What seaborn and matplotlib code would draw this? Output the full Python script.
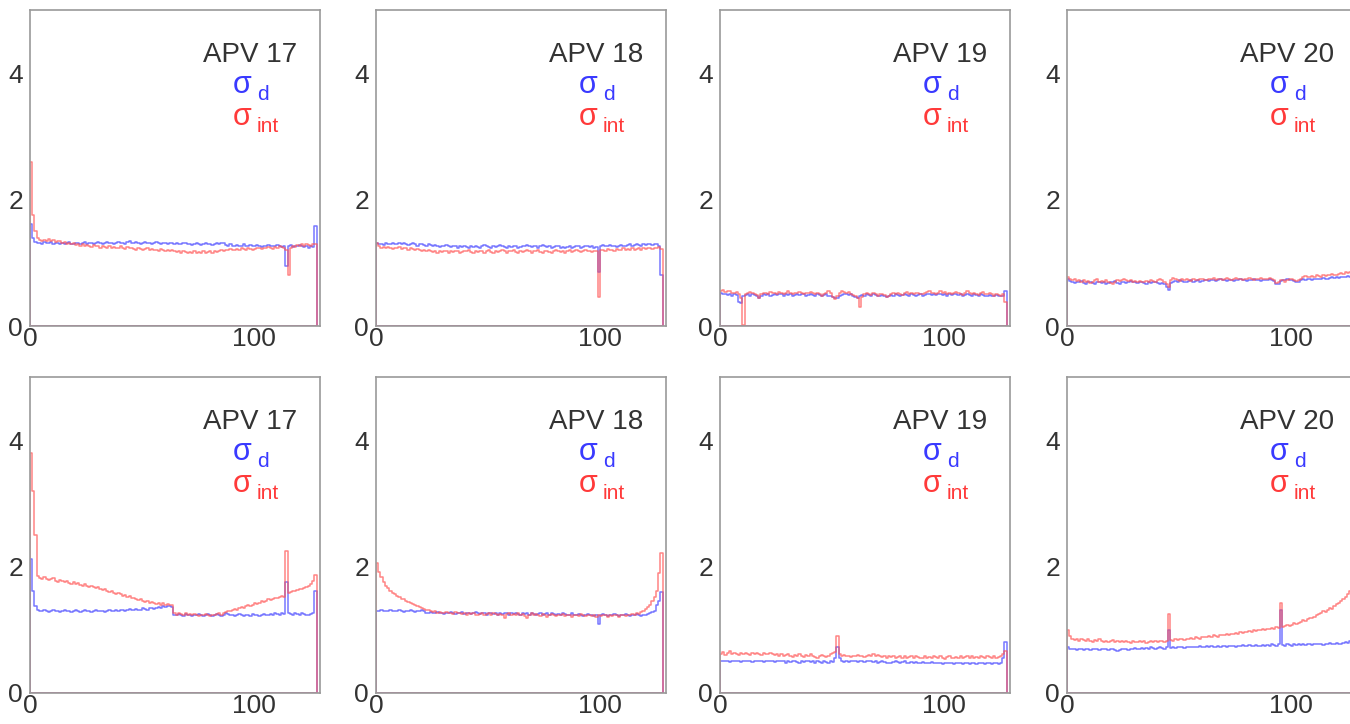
import numpy as np
import pandas as pd
import matplotlib
matplotlib.use("Agg")
import matplotlib.pyplot as plt
from matplotlib.colors import to_rgba
from matplotlib.ticker import FixedLocator, MultipleLocator
import seaborn as sns

# strip number of each APV chip (128 channels)
channels = list(range(128))
apv_names = ["APV 17", "APV 18", "APV 19", "APV 20"]

# ---- upper row ----
top17_d = [1.62, 1.40, 1.33, 1.31, 1.32, 1.30, 1.33, 1.32,
           1.31, 1.33, 1.30, 1.32, 1.31, 1.29, 1.32, 1.30,
           1.31, 1.33, 1.30, 1.29, 1.31, 1.32, 1.30, 1.31,
           1.33, 1.30, 1.31, 1.32, 1.30, 1.31, 1.33, 1.32,
           1.30, 1.31, 1.33, 1.32, 1.31, 1.30, 1.32, 1.33,
           1.31, 1.32, 1.30, 1.33, 1.35, 1.32, 1.31, 1.33,
           1.32, 1.30, 1.31, 1.33, 1.32, 1.31, 1.30, 1.32,
           1.33, 1.31, 1.30, 1.32, 1.31, 1.29, 1.31, 1.32,
           1.30, 1.31, 1.29, 1.30, 1.32, 1.31, 1.29, 1.30,
           1.28, 1.30, 1.31, 1.29, 1.28, 1.30, 1.31, 1.29,
           1.30, 1.28, 1.29, 1.31, 1.30, 1.32, 1.31, 1.28,
           1.27, 1.29, 1.26, 1.27, 1.28, 1.26, 1.27, 1.29,
           1.27, 1.26, 1.28, 1.27, 1.26, 1.28, 1.27, 1.25,
           1.27, 1.26, 1.28, 1.27, 1.26, 1.27, 1.28, 1.26,
           1.25, 1.27, 0.95, 1.26, 1.28, 1.25, 1.27, 1.26,
           1.28, 1.26, 1.25, 1.27, 1.24, 1.26, 1.25, 1.58]
top17_int = [2.60, 1.75, 1.50, 1.40, 1.36, 1.34, 1.36, 1.35,
             1.37, 1.34, 1.36, 1.33, 1.35, 1.34, 1.31, 1.33,
             1.30, 1.32, 1.29, 1.31, 1.28, 1.30, 1.27, 1.29,
             1.26, 1.28, 1.27, 1.25, 1.28, 1.26, 1.27, 1.24,
             1.26, 1.25, 1.23, 1.26, 1.24, 1.25, 1.23, 1.24,
             1.26, 1.24, 1.22, 1.25, 1.23, 1.24, 1.22, 1.21,
             1.23, 1.22, 1.20, 1.22, 1.24, 1.21, 1.22, 1.20,
             1.21, 1.19, 1.22, 1.20, 1.18, 1.21, 1.19, 1.20,
             1.18, 1.17, 1.19, 1.16, 1.18, 1.17, 1.15, 1.17,
             1.16, 1.18, 1.15, 1.17, 1.16, 1.18, 1.16, 1.17,
             1.18, 1.16, 1.19, 1.17, 1.18, 1.20, 1.19, 1.21,
             1.20, 1.22, 1.21, 1.20, 1.22, 1.21, 1.23, 1.22,
             1.21, 1.23, 1.22, 1.20, 1.22, 1.24, 1.23, 1.22,
             1.24, 1.23, 1.25, 1.24, 1.22, 1.25, 1.24, 1.26,
             1.25, 1.23, 1.20, 0.80, 1.24, 1.27, 1.25, 1.28,
             1.26, 1.29, 1.27, 1.30, 1.28, 1.27, 1.29, 1.30]

top18_d = [1.32, 1.29, 1.30, 1.28, 1.31, 1.29, 1.30, 1.31,
           1.29, 1.30, 1.32, 1.29, 1.31, 1.30, 1.28, 1.30,
           1.31, 1.29, 1.27, 1.29, 1.30, 1.28, 1.27, 1.29,
           1.28, 1.26, 1.28, 1.27, 1.25, 1.27, 1.26, 1.28,
           1.26, 1.25, 1.27, 1.26, 1.24, 1.26, 1.25, 1.27,
           1.25, 1.24, 1.26, 1.25, 1.27, 1.25, 1.24, 1.26,
           1.28, 1.26, 1.25, 1.24, 1.26, 1.25, 1.27, 1.28,
           1.26, 1.25, 1.24, 1.26, 1.25, 1.27, 1.26, 1.24,
           1.25, 1.27, 1.26, 1.28, 1.26, 1.25, 1.27, 1.26,
           1.24, 1.26, 1.28, 1.27, 1.25, 1.26, 1.24, 1.25,
           1.27, 1.26, 1.24, 1.25, 1.23, 1.25, 1.26, 1.24,
           1.25, 1.27, 1.26, 1.24, 1.25, 1.26, 1.27, 1.25,
           1.26, 1.24, 1.25, 0.86, 1.27, 1.28, 1.26, 1.27,
           1.28, 1.26, 1.27, 1.25, 1.26, 1.28, 1.27, 1.26,
           1.28, 1.29, 1.27, 1.28, 1.30, 1.28, 1.27, 1.29,
           1.28, 1.30, 1.29, 1.28, 1.30, 1.29, 1.27, 0.80]
top18_int = [1.32, 1.26, 1.24, 1.25, 1.23, 1.25, 1.24, 1.22,
             1.24, 1.23, 1.25, 1.22, 1.24, 1.23, 1.21, 1.23,
             1.22, 1.20, 1.22, 1.21, 1.19, 1.21, 1.18, 1.20,
             1.19, 1.17, 1.19, 1.16, 1.18, 1.17, 1.19, 1.18,
             1.16, 1.18, 1.17, 1.19, 1.18, 1.16, 1.17, 1.19,
             1.18, 1.20, 1.17, 1.16, 1.18, 1.17, 1.19, 1.18,
             1.16, 1.18, 1.20, 1.17, 1.15, 1.18, 1.17, 1.19,
             1.21, 1.18, 1.16, 1.19, 1.18, 1.20, 1.17, 1.15,
             1.18, 1.17, 1.19, 1.20, 1.18, 1.16, 1.19, 1.18,
             1.20, 1.17, 1.16, 1.18, 1.19, 1.17, 1.15, 1.18,
             1.20, 1.18, 1.17, 1.19, 1.16, 1.18, 1.20, 1.17,
             1.19, 1.21, 1.18, 1.17, 1.19, 1.20, 1.18, 1.19,
             1.17, 1.19, 1.18, 0.46, 1.20, 1.21, 1.19, 1.22,
             1.20, 1.21, 1.19, 1.22, 1.20, 1.21, 1.23, 1.20,
             1.22, 1.21, 1.23, 1.20, 1.22, 1.24, 1.21, 1.23,
             1.22, 1.24, 1.23, 1.22, 1.24, 1.23, 1.25, 1.22]

top19_d = [0.52, 0.50, 0.51, 0.49, 0.50, 0.48, 0.50, 0.49,
           0.38, 0.37, 0.47, 0.49, 0.50, 0.48, 0.50, 0.49,
           0.47, 0.45, 0.48, 0.50, 0.49, 0.50, 0.48, 0.49,
           0.50, 0.49, 0.51, 0.50, 0.48, 0.50, 0.49, 0.50,
           0.48, 0.49, 0.50, 0.49, 0.51, 0.50, 0.48, 0.49,
           0.50, 0.49, 0.48, 0.50, 0.49, 0.47, 0.49, 0.50,
           0.48, 0.47, 0.46, 0.44, 0.45, 0.48, 0.49, 0.50,
           0.51, 0.49, 0.50, 0.48, 0.46, 0.45, 0.47, 0.49,
           0.48, 0.50, 0.49, 0.48, 0.50, 0.49, 0.48, 0.47,
           0.49, 0.48, 0.46, 0.47, 0.49, 0.48, 0.50, 0.49,
           0.48, 0.49, 0.50, 0.49, 0.48, 0.50, 0.49, 0.48,
           0.49, 0.50, 0.48, 0.49, 0.50, 0.51, 0.49, 0.50,
           0.49, 0.50, 0.51, 0.49, 0.50, 0.48, 0.50, 0.49,
           0.51, 0.50, 0.49, 0.50, 0.48, 0.49, 0.50, 0.49,
           0.48, 0.50, 0.49, 0.48, 0.50, 0.49, 0.48, 0.47,
           0.49, 0.48, 0.47, 0.49, 0.48, 0.47, 0.48, 0.56]
top19_int = [0.55, 0.57, 0.54, 0.56, 0.55, 0.53, 0.52, 0.54,
             0.50, 0.45, 0.02, 0.50, 0.52, 0.54, 0.53, 0.51,
             0.49, 0.44, 0.50, 0.52, 0.53, 0.51, 0.54, 0.52,
             0.53, 0.51, 0.54, 0.52, 0.50, 0.53, 0.55, 0.52,
             0.51, 0.53, 0.52, 0.54, 0.52, 0.51, 0.53, 0.52,
             0.54, 0.52, 0.51, 0.53, 0.50, 0.48, 0.51, 0.53,
             0.55, 0.52, 0.46, 0.42, 0.48, 0.53, 0.56, 0.54,
             0.52, 0.54, 0.51, 0.49, 0.47, 0.44, 0.30, 0.46,
             0.50, 0.53, 0.51, 0.49, 0.52, 0.50, 0.48, 0.51,
             0.50, 0.49, 0.46, 0.48, 0.51, 0.52, 0.50, 0.53,
             0.51, 0.49, 0.52, 0.54, 0.51, 0.53, 0.50, 0.52,
             0.53, 0.51, 0.50, 0.52, 0.54, 0.55, 0.52, 0.53,
             0.51, 0.53, 0.55, 0.52, 0.54, 0.51, 0.53, 0.50,
             0.52, 0.54, 0.53, 0.51, 0.49, 0.52, 0.55, 0.52,
             0.50, 0.53, 0.51, 0.49, 0.52, 0.54, 0.51, 0.50,
             0.52, 0.50, 0.48, 0.51, 0.49, 0.48, 0.50, 0.38]

top20_d = [0.75, 0.71, 0.70, 0.68, 0.70, 0.69, 0.71, 0.68,
           0.67, 0.69, 0.70, 0.68, 0.67, 0.69, 0.70, 0.68,
           0.69, 0.67, 0.68, 0.70, 0.69, 0.71, 0.68, 0.67,
           0.69, 0.70, 0.68, 0.69, 0.71, 0.70, 0.69, 0.68,
           0.70, 0.69, 0.68, 0.67, 0.69, 0.68, 0.70, 0.69,
           0.68, 0.67, 0.68, 0.66, 0.62, 0.57, 0.68, 0.70,
           0.71, 0.70, 0.72, 0.71, 0.70, 0.69, 0.71, 0.72,
           0.70, 0.71, 0.72, 0.70, 0.71, 0.73, 0.72, 0.71,
           0.72, 0.73, 0.71, 0.72, 0.74, 0.73, 0.72, 0.71,
           0.73, 0.72, 0.71, 0.73, 0.72, 0.74, 0.73, 0.72,
           0.71, 0.73, 0.72, 0.74, 0.73, 0.72, 0.71, 0.73,
           0.72, 0.73, 0.74, 0.72, 0.71, 0.66, 0.67, 0.71,
           0.73, 0.72, 0.74, 0.73, 0.72, 0.71, 0.69, 0.70,
           0.72, 0.74, 0.73, 0.75, 0.74, 0.73, 0.75, 0.74,
           0.75, 0.74, 0.76, 0.75, 0.74, 0.76, 0.77, 0.76,
           0.77, 0.76, 0.78, 0.77, 0.78, 0.79, 0.78, 0.79]
top20_int = [0.77, 0.74, 0.72, 0.75, 0.71, 0.73, 0.70, 0.72,
             0.69, 0.71, 0.68, 0.70, 0.72, 0.75, 0.70, 0.71,
             0.69, 0.72, 0.70, 0.68, 0.66, 0.70, 0.73, 0.71,
             0.72, 0.74, 0.73, 0.71, 0.72, 0.70, 0.71, 0.69,
             0.71, 0.70, 0.69, 0.71, 0.70, 0.72, 0.71, 0.70,
             0.72, 0.74, 0.73, 0.70, 0.66, 0.62, 0.73, 0.76,
             0.75, 0.73, 0.71, 0.74, 0.72, 0.75, 0.73, 0.71,
             0.74, 0.72, 0.73, 0.75, 0.74, 0.72, 0.73, 0.75,
             0.74, 0.76, 0.73, 0.75, 0.74, 0.72, 0.74, 0.76,
             0.75, 0.73, 0.74, 0.76, 0.75, 0.74, 0.73, 0.75,
             0.74, 0.76, 0.75, 0.73, 0.75, 0.74, 0.76, 0.75,
             0.74, 0.75, 0.76, 0.74, 0.72, 0.68, 0.70, 0.73,
             0.72, 0.70, 0.73, 0.75, 0.74, 0.73, 0.71, 0.72,
             0.75, 0.77, 0.79, 0.78, 0.77, 0.79, 0.78, 0.80,
             0.79, 0.78, 0.80, 0.79, 0.81, 0.80, 0.82, 0.81,
             0.80, 0.83, 0.84, 0.82, 0.85, 0.84, 0.86, 0.85]

# ---- lower row ----
bot17_d = [2.12, 1.62, 1.38, 1.32, 1.30, 1.29, 1.31, 1.30,
           1.28, 1.30, 1.31, 1.29, 1.30, 1.28, 1.30, 1.31,
           1.29, 1.30, 1.28, 1.30, 1.31, 1.29, 1.28, 1.30,
           1.31, 1.29, 1.30, 1.28, 1.29, 1.31, 1.30, 1.29,
           1.30, 1.28, 1.29, 1.31, 1.30, 1.29, 1.31, 1.30,
           1.32, 1.31, 1.30, 1.32, 1.33, 1.31, 1.32, 1.33,
           1.31, 1.32, 1.34, 1.33, 1.32, 1.34, 1.35, 1.33,
           1.34, 1.36, 1.35, 1.37, 1.36, 1.38, 1.37, 1.36,
           1.24, 1.23, 1.25, 1.24, 1.22, 1.25, 1.23, 1.24,
           1.22, 1.24, 1.23, 1.25, 1.24, 1.22, 1.23, 1.25,
           1.23, 1.22, 1.24, 1.25, 1.23, 1.22, 1.24, 1.26,
           1.25, 1.23, 1.24, 1.22, 1.23, 1.25, 1.24, 1.22,
           1.23, 1.24, 1.22, 1.25, 1.23, 1.24, 1.22, 1.23,
           1.25, 1.24, 1.23, 1.25, 1.24, 1.26, 1.25, 1.24,
           1.26, 1.25, 1.76, 1.27, 1.25, 1.24, 1.26, 1.25,
           1.24, 1.26, 1.25, 1.23, 1.24, 1.25, 1.27, 1.62]
bot17_int = [3.80, 3.20, 2.50, 1.85, 1.82, 1.80, 1.83, 1.81,
             1.79, 1.80, 1.82, 1.78, 1.76, 1.79, 1.77, 1.75,
             1.77, 1.74, 1.73, 1.75, 1.72, 1.74, 1.71, 1.70,
             1.72, 1.69, 1.68, 1.70, 1.67, 1.66, 1.68, 1.65,
             1.63, 1.64, 1.61, 1.60, 1.62, 1.58, 1.57, 1.59,
             1.56, 1.54, 1.55, 1.52, 1.53, 1.50, 1.51, 1.48,
             1.47, 1.49, 1.46, 1.44, 1.45, 1.43, 1.44, 1.42,
             1.41, 1.43, 1.40, 1.42, 1.40, 1.41, 1.39, 1.40,
             1.26, 1.24, 1.27, 1.25, 1.23, 1.26, 1.24, 1.25,
             1.23, 1.25, 1.24, 1.22, 1.24, 1.23, 1.25, 1.24,
             1.22, 1.24, 1.23, 1.25, 1.26, 1.24, 1.27, 1.28,
             1.30, 1.29, 1.31, 1.33, 1.32, 1.34, 1.36, 1.35,
             1.37, 1.39, 1.38, 1.40, 1.42, 1.41, 1.43, 1.45,
             1.44, 1.46, 1.48, 1.47, 1.49, 1.51, 1.50, 1.52,
             1.53, 1.52, 2.25, 1.58, 1.60, 1.62, 1.61, 1.63,
             1.65, 1.64, 1.66, 1.68, 1.70, 1.72, 1.78, 1.86]

bot18_d = [1.30, 1.29, 1.31, 1.30, 1.29, 1.30, 1.31, 1.29,
           1.30, 1.29, 1.31, 1.30, 1.28, 1.30, 1.29, 1.31,
           1.30, 1.28, 1.29, 1.30, 1.31, 1.29, 1.27, 1.26,
           1.28, 1.26, 1.27, 1.28, 1.26, 1.27, 1.25, 1.27,
           1.26, 1.28, 1.26, 1.25, 1.27, 1.26, 1.28, 1.25,
           1.26, 1.27, 1.25, 1.26, 1.28, 1.26, 1.25, 1.27,
           1.26, 1.24, 1.26, 1.27, 1.25, 1.26, 1.24, 1.26,
           1.25, 1.27, 1.26, 1.24, 1.26, 1.25, 1.27, 1.25,
           1.24, 1.26, 1.25, 1.27, 1.24, 1.26, 1.25, 1.23,
           1.25, 1.26, 1.24, 1.25, 1.27, 1.24, 1.26, 1.25,
           1.23, 1.25, 1.24, 1.26, 1.25, 1.23, 1.24, 1.26,
           1.24, 1.23, 1.25, 1.24, 1.22, 1.24, 1.25, 1.23,
           1.24, 1.22, 1.24, 1.09, 1.23, 1.25, 1.24, 1.22,
           1.24, 1.23, 1.25, 1.24, 1.22, 1.24, 1.23, 1.25,
           1.24, 1.22, 1.24, 1.23, 1.25, 1.24, 1.22, 1.23,
           1.24, 1.25, 1.26, 1.28, 1.30, 1.40, 1.45, 1.60]
bot18_int = [2.05, 1.92, 1.83, 1.76, 1.70, 1.66, 1.62, 1.58,
             1.56, 1.53, 1.52, 1.49, 1.48, 1.46, 1.44, 1.43,
             1.41, 1.39, 1.38, 1.36, 1.35, 1.33, 1.32, 1.31,
             1.30, 1.28, 1.29, 1.27, 1.28, 1.26, 1.27, 1.28,
             1.26, 1.27, 1.25, 1.28, 1.26, 1.27, 1.25, 1.26,
             1.24, 1.26, 1.25, 1.27, 1.24, 1.23, 1.25, 1.26,
             1.24, 1.25, 1.27, 1.24, 1.26, 1.25, 1.23, 1.25,
             1.24, 1.18, 1.25, 1.26, 1.24, 1.25, 1.23, 1.26,
             1.24, 1.25, 1.22, 1.19, 1.24, 1.26, 1.23, 1.25,
             1.24, 1.22, 1.25, 1.23, 1.21, 1.24, 1.25, 1.23,
             1.22, 1.24, 1.23, 1.25, 1.22, 1.24, 1.23, 1.21,
             1.23, 1.24, 1.22, 1.25, 1.23, 1.22, 1.24, 1.23,
             1.22, 1.24, 1.21, 1.23, 1.22, 1.24, 1.23, 1.21,
             1.23, 1.22, 1.24, 1.23, 1.21, 1.24, 1.23, 1.22,
             1.24, 1.23, 1.25, 1.24, 1.26, 1.25, 1.28, 1.30,
             1.33, 1.36, 1.40, 1.45, 1.52, 1.62, 1.90, 2.22]

bot19_d = [0.50, 0.50, 0.51, 0.50, 0.49, 0.50, 0.51, 0.50,
           0.50, 0.49, 0.50, 0.51, 0.50, 0.50, 0.49, 0.50,
           0.51, 0.50, 0.50, 0.49, 0.50, 0.51, 0.50, 0.50,
           0.49, 0.50, 0.50, 0.51, 0.50, 0.48, 0.50, 0.49,
           0.50, 0.51, 0.49, 0.48, 0.50, 0.49, 0.50, 0.51,
           0.49, 0.50, 0.48, 0.50, 0.49, 0.48, 0.50, 0.49,
           0.48, 0.50, 0.49, 0.56, 0.72, 0.55, 0.50, 0.49,
           0.50, 0.49, 0.50, 0.51, 0.50, 0.49, 0.50, 0.50,
           0.49, 0.50, 0.51, 0.50, 0.49, 0.50, 0.48, 0.49,
           0.50, 0.49, 0.48, 0.47, 0.48, 0.49, 0.50, 0.49,
           0.48, 0.49, 0.50, 0.48, 0.47, 0.49, 0.48, 0.49,
           0.48, 0.47, 0.49, 0.48, 0.47, 0.48, 0.49, 0.47,
           0.48, 0.47, 0.48, 0.46, 0.48, 0.47, 0.48, 0.47,
           0.46, 0.48, 0.47, 0.48, 0.46, 0.47, 0.48, 0.46,
           0.47, 0.48, 0.46, 0.47, 0.48, 0.47, 0.46, 0.48,
           0.47, 0.46, 0.48, 0.47, 0.46, 0.48, 0.55, 0.80]
bot19_int = [0.62, 0.65, 0.60, 0.63, 0.66, 0.61, 0.64, 0.62,
             0.60, 0.63, 0.61, 0.64, 0.62, 0.60, 0.63, 0.61,
             0.64, 0.62, 0.60, 0.63, 0.61, 0.62, 0.64, 0.61,
             0.60, 0.62, 0.59, 0.61, 0.58, 0.60, 0.62, 0.59,
             0.57, 0.60, 0.58, 0.61, 0.59, 0.57, 0.60, 0.58,
             0.61, 0.59, 0.57, 0.56, 0.58, 0.60, 0.58, 0.57,
             0.59, 0.61, 0.63, 0.65, 0.90, 0.62, 0.58, 0.60,
             0.58, 0.59, 0.57, 0.59, 0.58, 0.60, 0.58, 0.59,
             0.57, 0.58, 0.60, 0.59, 0.61, 0.58, 0.60, 0.59,
             0.57, 0.59, 0.56, 0.58, 0.57, 0.59, 0.55, 0.57,
             0.58, 0.56, 0.58, 0.55, 0.57, 0.59, 0.56, 0.58,
             0.57, 0.55, 0.56, 0.58, 0.55, 0.57, 0.56, 0.58,
             0.57, 0.55, 0.58, 0.56, 0.54, 0.57, 0.59, 0.56,
             0.55, 0.57, 0.56, 0.58, 0.55, 0.57, 0.59, 0.56,
             0.58, 0.56, 0.57, 0.55, 0.58, 0.57, 0.56, 0.58,
             0.57, 0.56, 0.58, 0.56, 0.57, 0.59, 0.62, 0.66]

bot20_d = [0.72, 0.70, 0.69, 0.70, 0.68, 0.69, 0.70, 0.68,
           0.69, 0.70, 0.68, 0.69, 0.70, 0.69, 0.68, 0.69,
           0.70, 0.69, 0.68, 0.70, 0.69, 0.68, 0.67, 0.68,
           0.69, 0.70, 0.69, 0.68, 0.69, 0.70, 0.71, 0.70,
           0.69, 0.71, 0.70, 0.71, 0.70, 0.72, 0.71, 0.70,
           0.71, 0.72, 0.71, 0.70, 0.72, 1.00, 0.71, 0.72,
           0.71, 0.72, 0.73, 0.72, 0.71, 0.73, 0.72, 0.73,
           0.72, 0.73, 0.72, 0.74, 0.73, 0.72, 0.74, 0.73,
           0.74, 0.73, 0.72, 0.74, 0.73, 0.75, 0.74, 0.73,
           0.74, 0.75, 0.74, 0.73, 0.75, 0.74, 0.76, 0.75,
           0.74, 0.76, 0.75, 0.74, 0.76, 0.75, 0.74, 0.76,
           0.75, 0.76, 0.75, 0.77, 0.76, 0.75, 0.77, 1.32,
           0.76, 0.75, 0.77, 0.76, 0.75, 0.77, 0.76, 0.77,
           0.76, 0.77, 0.76, 0.78, 0.77, 0.76, 0.78, 0.77,
           0.78, 0.77, 0.76, 0.78, 0.77, 0.79, 0.78, 0.77,
           0.79, 0.78, 0.77, 0.79, 0.80, 0.79, 0.82, 0.95]
bot20_int = [1.00, 0.90, 0.86, 0.84, 0.85, 0.83, 0.86, 0.84,
             0.82, 0.85, 0.83, 0.81, 0.84, 0.82, 0.85, 0.83,
             0.81, 0.83, 0.80, 0.82, 0.84, 0.81, 0.83, 0.80,
             0.82, 0.80, 0.83, 0.81, 0.79, 0.82, 0.80, 0.81,
             0.83, 0.80, 0.82, 0.79, 0.81, 0.83, 0.80, 0.82,
             0.81, 0.83, 0.82, 0.80, 0.82, 1.25, 0.84, 0.83,
             0.85, 0.84, 0.86, 0.85, 0.84, 0.86, 0.85, 0.87,
             0.86, 0.88, 0.87, 0.86, 0.88, 0.89, 0.88, 0.90,
             0.89, 0.91, 0.90, 0.89, 0.91, 0.92, 0.91, 0.93,
             0.92, 0.94, 0.93, 0.95, 0.94, 0.96, 0.95, 0.97,
             0.96, 0.98, 0.97, 0.99, 0.98, 1.00, 0.99, 1.01,
             1.00, 1.02, 1.01, 1.03, 1.02, 1.04, 1.03, 1.43,
             1.05, 1.06, 1.07, 1.06, 1.08, 1.10, 1.09, 1.11,
             1.13, 1.15, 1.14, 1.17, 1.19, 1.18, 1.21, 1.23,
             1.25, 1.27, 1.29, 1.28, 1.31, 1.34, 1.33, 1.37,
             1.41, 1.43, 1.46, 1.49, 1.52, 1.56, 1.62, 1.95]

panels = [
    [(top17_d, top17_int), (top18_d, top18_int), (top19_d, top19_int), (top20_d, top20_int)],
    [(bot17_d, bot17_int), (bot18_d, bot18_int), (bot19_d, bot19_int), (bot20_d, bot20_int)],
]

BLUE = "#4a4aff"
RED = "#ff5050"
FRAME = "#9a9a9a"
TEXT = "#333333"

sns.set_style("white")
plt.rcParams["font.family"] = ["Liberation Sans", "DejaVu Sans"]

W, H = 1350, 724
fig = plt.figure(figsize=(W / 100, H / 100), dpi=100)

lefts = [30, 376, 720, 1067]
bottoms = [326, 693]
pw, ph = 290, 316


def draw_hist(ax, df, col, color, alpha):
    # outline of the histogram, dropping to zero at both ends like ROOT does
    sns.histplot(data=df, x="ch", weights=col, bins=128, binrange=(0, 128),
                 element="step", fill=True, color=color, facecolor="none",
                 edgecolor=to_rgba(color, alpha), linewidth=1.1, ax=ax)


for r, row in enumerate(panels):
    for c, (sig_d, sig_int) in enumerate(row):
        ax = fig.add_axes([lefts[c] / W, (H - bottoms[r]) / H, pw / W, ph / H])
        df = pd.DataFrame({"ch": channels, "d": sig_d, "int": sig_int})
        draw_hist(ax, df, "d", BLUE, 0.75)
        draw_hist(ax, df, "int", RED, 0.7)

        ax.set_xlim(0, 129.5)
        ax.set_ylim(0, 5)
        ax.set_xlabel("")
        ax.set_ylabel("")
        ax.xaxis.set_major_locator(FixedLocator([0, 100]))
        ax.xaxis.set_minor_locator(MultipleLocator(20))
        ax.yaxis.set_major_locator(FixedLocator([0, 2, 4]))
        ax.yaxis.set_minor_locator(MultipleLocator(0.5))
        ax.tick_params(which="both", direction="in", color=FRAME, labelcolor=TEXT,
                       labelsize=19, width=1)
        ax.tick_params(which="major", length=7)
        ax.tick_params(which="minor", length=4)
        ax.tick_params(axis="x", pad=1)
        ax.tick_params(axis="y", pad=5)
        for sp in ax.spines.values():
            sp.set_color(FRAME)
            sp.set_linewidth(1.2)

        ax.text(0.921, 0.837, apv_names[c], transform=ax.transAxes, ha="right",
                va="baseline", fontsize=20, color=TEXT)
        ax.text(0.70, 0.737, "σ", transform=ax.transAxes, ha="left",
                va="baseline", fontsize=22, color="#3a3aff")
        ax.text(0.783, 0.715, "d", transform=ax.transAxes, ha="left",
                va="baseline", fontsize=15, color="#3a3aff")
        ax.text(0.70, 0.636, "σ", transform=ax.transAxes, ha="left",
                va="baseline", fontsize=22, color="#ff3a3a")
        ax.text(0.783, 0.614, "int", transform=ax.transAxes, ha="left",
                va="baseline", fontsize=15, color="#ff3a3a")

fig.savefig("out.png", dpi=100)
